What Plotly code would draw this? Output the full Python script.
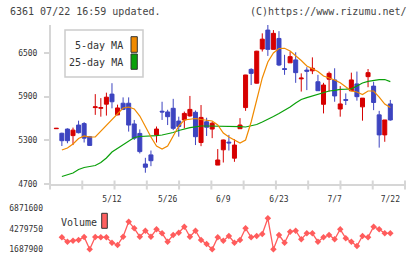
import plotly.graph_objects as go

# ---------------- data ----------------
dates = ["4/23", "4/24", "4/25", "4/28", "4/30", "5/1", "5/2", "5/7", "5/8", "5/9",
         "5/12", "5/13", "5/14", "5/15", "5/16", "5/19", "5/20", "5/21", "5/22", "5/23",
         "5/26", "5/27", "5/28", "5/29", "5/30", "6/2", "6/3", "6/4", "6/5", "6/6",
         "6/9", "6/10", "6/11", "6/12", "6/13", "6/16", "6/17", "6/18", "6/19", "6/20",
         "6/23", "6/24", "6/25", "6/26", "6/27", "6/30", "7/1", "7/2", "7/3", "7/4",
         "7/7", "7/8", "7/9", "7/10", "7/11", "7/14", "7/15", "7/16", "7/17", "7/18",
         "7/22"]

open_ = [5460, 5397, 5455, 5365, 5510, 5530, 5350, 5750, 5740, 5797,
         5935, 5650, 5810, 5810, 5525, 5395, 4975, 5100, 5375, 5700,
         5690, 5740, 5565, 5580, 5635, 5685, 5270, 5555, 5455, 4960,
         5170, 5275, 5055, 5460, 5750, 6275, 6085, 6555, 6815, 6550,
         6700, 6285, 6365, 6405, 6145, 6265, 6255, 6105, 5795, 6140,
         6130, 5730, 5860, 5980, 6075, 5760, 6175, 6045, 5650, 5375,
         5800]
high = [5470, 5405, 5465, 5475, 5570, 5550, 5360, 5935, 5880, 5955,
        6085, 5790, 5890, 5890, 5580, 5450, 5060, 5160, 5490, 5830,
        5720, 5870, 5625, 5695, 5910, 5710, 5785, 5610, 5555, 5180,
        5310, 5375, 5315, 5605, 6200, 6290, 6530, 6770, 6885, 6815,
        6800, 6475, 6520, 6510, 6220, 6305, 6440, 6200, 6090, 6245,
        6290, 6045, 5945, 6230, 6245, 5880, 6280, 6105, 5705, 5580,
        5855]
low = [5460, 5222, 5260, 5235, 5395, 5270, 5225, 5650, 5625, 5640,
       5740, 5645, 5715, 5420, 5305, 5120, 4855, 4945, 5270, 5580,
       5510, 5440, 5350, 5465, 5625, 5235, 5220, 5360, 5330, 4960,
       4995, 5160, 5005, 5460, 5705, 6060, 6080, 6520, 6460, 6550,
       6320, 6200, 6365, 6090, 5970, 5990, 6210, 5980, 5670, 5970,
       5830, 5625, 5785, 5980, 5845, 5570, 6030, 5715, 5200, 5280,
       5570]
close = [5465, 5295, 5295, 5440, 5405, 5330, 5230, 5760, 5750, 5893,
         5830, 5745, 5725, 5510, 5330, 5145, 4930, 5020, 5455, 5690,
         5625, 5465, 5490, 5670, 5725, 5350, 5615, 5480, 5535, 5030,
         5305, 5265, 5235, 5510, 6198, 6220, 6525, 6690, 6550, 6770,
         6335, 6275, 6450, 6230, 6155, 6250, 6290, 5982, 6060, 6220,
         5910, 5800, 5850, 6130, 5900, 5880, 6230, 5820, 5375, 5580,
         5580]

ma5 = [None, 5167, 5195, 5250, 5325, 5360, 5346, 5346, 5428, 5497,
       5579, 5676, 5744, 5758, 5731, 5634, 5483, 5346, 5222, 5181,
       5222, 5360, 5497, 5579, 5593, 5600, 5586, 5579, 5566, 5511,
       5401, 5346, 5305, 5263, 5305, 5552, 5854, 6157, 6376, 6500,
       6562, 6565, 6527, 6466, 6397, 6321, 6280, 6246, 6184, 6157,
       6129, 6091, 6033, 5978, 5964, 5930, 5978, 5978, 5895, 5799,
       5751]
ma25 = [None, 4803, 4824, 4851, 4899, 4927, 4940, 4954, 4995, 5057,
        5140, 5188, 5236, 5291, 5339, 5353, 5355, 5360, 5366, 5373,
        5387, 5408, 5435, 5456, 5474, 5486, 5497, 5497, 5497, 5497,
        5497, 5497, 5493, 5487, 5483, 5497, 5518, 5552, 5586, 5628,
        5669, 5710, 5758, 5813, 5861, 5886, 5909, 5937, 5960, 5978,
        5987, 6001, 6003, 6008, 6047, 6088, 6111, 6126, 6133, 6136,
        6106]

volume = [None, 3205000, 2648800, 2775200, 2863700, 3243000, 1687900, 3243000, 3205000, 3205000,
          2522350, 2231560, 3280940, 5177420, 4342970, 3280940, 4039530, 3280940, 4216540, 3710810,
          2648800, 3495880, 3786670, 4545260, 3280940, 4039530, 2863700, 2357990, 1687900, 3205000,
          2775200, 3369450, 2522350, 2863700, 4342970, 3205000, 3369450, 3622310, 5607290, 1687900,
          3495880, 2522350, 3913100, 4039530, 2952220, 3710810, 3710810, 2648800, 3205000, 3495880,
          2952220, 4216540, 3078650, 2648800, 2105130, 3369450, 3205000, 4545260, 4216540, 3710810,
          3710810]

price_ticks = [4700, 5300, 5900, 6500]
volume_ticks = [1687900, 4279750, 6871600]
tick_labels = ["5/12", "5/26", "6/9", "6/23", "7/7", "7/22"]

# ---------------- layout geometry ----------------
W, H = 420, 259
ML, MR, MT, MB = 50, 15, 25, 6
PW = W - ML - MR
PH = H - MT - MB


def pxx(p):
    return (p - ML) / PW


def pxy(p):
    return (H - MB - p) / PH


X0, DX = 56.3, 5.567
x_range = [(ML - X0) / DX, (W - MR - X0) / DX]
x = list(range(len(dates)))
tickvals = [dates.index(t) for t in tick_labels]

# price axis: 4700 at y=184, 6500 at y=53
ppp = 1800 / (184 - 53)
price_range = [4700, 4700 + (184 - MT) * ppp]
# volume axis: 1687900 at y=249.3, 6871600 at y=208.3
vpp = (6871600 - 1687900) / (249.3 - 208.3)
vol_range = [1687900 - (H - MB - 249.3) * vpp, 1687900 + (249.3 - 203) * vpp]

RED = "#d60000"
BLUE = "#3d44c0"
ORANGE = "#f08a00"
GREEN = "#0aa00a"
VOLC = "#ff5c5c"
GRID = "#d6d6d6"
MONO = "DejaVu Sans Mono"

fig = go.Figure()
fig.add_trace(go.Scatter(x=x, y=ma25, mode="lines", line=dict(color=GREEN, width=1.2),
                         showlegend=False, hoverinfo="skip"))
fig.add_trace(go.Scatter(x=x, y=ma5, mode="lines", line=dict(color=ORANGE, width=1.2),
                         showlegend=False, hoverinfo="skip"))
fig.add_trace(go.Candlestick(
    x=x, open=open_, high=high, low=low, close=close,
    increasing=dict(line=dict(color=RED, width=1), fillcolor=RED),
    decreasing=dict(line=dict(color=BLUE, width=1), fillcolor=BLUE),
    whiskerwidth=0, showlegend=False, hoverinfo="skip"))
fig.add_trace(go.Scatter(x=x, y=volume, xaxis="x2", yaxis="y2", mode="lines+markers",
                         line=dict(color=VOLC, width=1.3),
                         marker=dict(symbol="diamond", size=5, color=VOLC),
                         showlegend=False, hoverinfo="skip"))

shapes = []
# bottom tick marks of the price panel
for k in range(1, 12):
    shapes.append(dict(type="line", xref="paper", yref="paper",
                       x0=k / 11, x1=k / 11, y0=pxy(189.5), y1=pxy(180.5),
                       line=dict(color=GRID, width=2)))
# left axis extension
shapes.append(dict(type="line", xref="paper", yref="paper", x0=0, x1=0,
                   y0=pxy(189.5), y1=1, line=dict(color=GRID, width=2)))
# MA legend box
shapes.append(dict(type="rect", xref="paper", yref="paper",
                   x0=pxx(65), x1=pxx(143), y0=pxy(77), y1=pxy(30),
                   line=dict(color="#cccccc", width=1.5), fillcolor="white"))
shapes.append(dict(type="rect", xref="paper", yref="paper",
                   x0=pxx(131), x1=pxx(137.3), y0=pxy(52.3), y1=pxy(36.7),
                   line=dict(color="#333333", width=1), fillcolor=ORANGE))
shapes.append(dict(type="rect", xref="paper", yref="paper",
                   x0=pxx(131), x1=pxx(137.3), y0=pxy(69.3), y1=pxy(54),
                   line=dict(color="#333333", width=1), fillcolor=GREEN))
# volume legend square
shapes.append(dict(type="rect", xref="paper", yref="paper",
                   x0=pxx(101.7), x1=pxx(107.3), y0=pxy(228.3), y1=pxy(213.3),
                   line=dict(color="#333333", width=1), fillcolor="#ff6060"))

ann = []
ann.append(dict(text="6361 07/22 16:59 updated.", xref="paper", yref="paper",
                x=pxx(8), y=pxy(12), xanchor="left", yanchor="middle", showarrow=False,
                font=dict(family=MONO, size=10, color="#444444")))
ann.append(dict(text="(C)https://www.rizumu.net/", xref="paper", yref="paper",
                x=pxx(409), y=pxy(12), xanchor="right", yanchor="middle", showarrow=False,
                font=dict(family=MONO, size=10, color="#444444")))
ann.append(dict(text="5-day MA", xref="paper", yref="paper",
                x=pxx(125), y=pxy(45.5), xanchor="right", yanchor="middle", showarrow=False,
                font=dict(family=MONO, size=10, color="#333333")))
ann.append(dict(text="25-day MA", xref="paper", yref="paper",
                x=pxx(125), y=pxy(63), xanchor="right", yanchor="middle", showarrow=False,
                font=dict(family=MONO, size=10, color="#333333")))
ann.append(dict(text="Volume", xref="paper", yref="paper",
                x=pxx(58.5), y=pxy(222), xanchor="left", yanchor="middle", showarrow=False,
                font=dict(family=MONO, size=10, color="#333333")))

fig.update_layout(
    width=W, height=H,
    margin=dict(l=ML, r=MR, t=MT, b=MB, autoexpand=False),
    paper_bgcolor="white", plot_bgcolor="white",
    boxgap=0.28, boxgroupgap=0,
    shapes=shapes, annotations=ann,
    xaxis=dict(domain=[0, 1], range=x_range, anchor="y", automargin=False,
               tickmode="array", tickvals=tickvals, ticktext=tick_labels,
               ticks="", showgrid=False, zeroline=False,
               showline=True, linecolor=GRID, linewidth=2,
               rangeslider=dict(visible=False),
               tickfont=dict(family=MONO, size=8, color="#333333"),
               ticklabelstandoff=6),
    yaxis=dict(domain=[pxy(184), 1], range=price_range, anchor="x", automargin=False,
               tickmode="array", tickvals=price_ticks,
               ticktext=[str(v) for v in price_ticks],
               ticks="outside", ticklen=5, tickcolor=GRID, tickwidth=1.5,
               showgrid=False, zeroline=False, showline=False,
               tickfont=dict(family=MONO, size=8, color="#333333"),
               ticklabelstandoff=5),
    xaxis2=dict(domain=[0, 1], range=x_range, anchor="y2", visible=False, automargin=False),
    yaxis2=dict(domain=[0, pxy(203)], range=vol_range, anchor="x2", automargin=False,
                tickmode="array", tickvals=volume_ticks,
                ticktext=[str(v) for v in volume_ticks],
                ticks="", showgrid=False, zeroline=False, showline=False,
                tickfont=dict(family=MONO, size=8, color="#333333"),
                ticklabelstandoff=6),
)

fig.write_html("out.html")
